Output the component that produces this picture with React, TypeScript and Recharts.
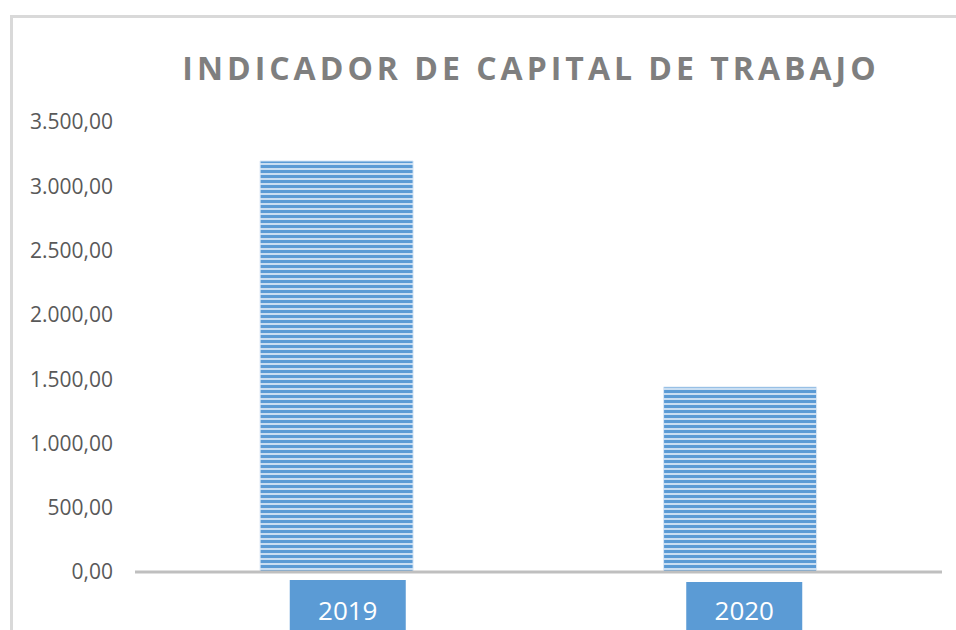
import React from 'react';
import { BarChart, Bar, XAxis, YAxis } from 'recharts';

const years = ['2019', '2020'];
const capitalTrabajo = [3197, 1439];
const yTicks = [0, 500, 1000, 1500, 2000, 2500, 3000, 3500];

const data = years.map((year, i) => ({ year, value: capitalTrabajo[i] }));

const fmt = (v: number) => {
  const [int, dec] = v.toFixed(2).split('.');
  return int.replace(/\B(?=(\d{3})+(?!\d))/g, '.') + ',' + dec;
};

// label boxes sit slightly off the bar centre, as in the source
const YearTick = (props: any) => {
  const { x, y, payload, index } = props;
  const cx = x + (index === 0 ? 11 : 4);
  const top = y + (index === 0 ? 0 : 2);
  return (
    <g>
      <rect x={cx - 58} y={top} width={116} height={60} fill="#5b9bd5" />
      <text x={cx} y={y + 40} textAnchor="middle" fill="#ffffff" fontSize={26} fontFamily="'Open Sans', sans-serif">
        {payload.value}
      </text>
    </g>
  );
};

export default function App() {
  return (
    <div style={{ position: 'absolute', left: 0, top: 0, width: 956, height: 630, background: '#fff', overflow: 'hidden' }}>
      <div style={{ position: 'absolute', left: 10, top: 15, width: 960, height: 640, borderTop: '3px solid #d9d9d9', borderLeft: '3px solid #d9d9d9' }} />
      <div style={{ position: 'absolute', left: 0, width: 1062, top: 46, textAlign: 'center', fontFamily: "'Open Sans', sans-serif", fontWeight: 700, fontSize: 32, letterSpacing: 4, color: '#7f7f7f', whiteSpace: 'nowrap' }}>
        INDICADOR DE CAPITAL DE TRABAJO
      </div>
      <div style={{ position: 'absolute', left: 0, top: 0 }}>
        <BarChart width={956} height={630} data={data} margin={{ top: 122, right: 14, bottom: 28, left: 0 }} barCategoryGap="31%">
          <defs>
            <pattern id="stripes" width="10" height="5" patternUnits="userSpaceOnUse">
              <rect width="10" height="5" fill="#c9def2" />
              <rect width="10" height="3" fill="#5b9bd5" />
            </pattern>
          </defs>
          <XAxis dataKey="year" height={30} axisLine={{ stroke: '#bfbfbf', strokeWidth: 3 }} tickLine={false} tick={<YearTick />} interval={0} />
          <YAxis width={135} domain={[0, 3500]} ticks={yTicks} tickFormatter={fmt} axisLine={false} tickLine={false} tickSize={0} tickMargin={22} tick={{ fill: '#595959', fontSize: 21, fontFamily: "'Open Sans', sans-serif" }} />
          <Bar dataKey="value" fill="url(#stripes)" stroke="#dbe8f6" strokeWidth={1} isAnimationActive={false} />
        </BarChart>
      </div>
    </div>
  );
}
